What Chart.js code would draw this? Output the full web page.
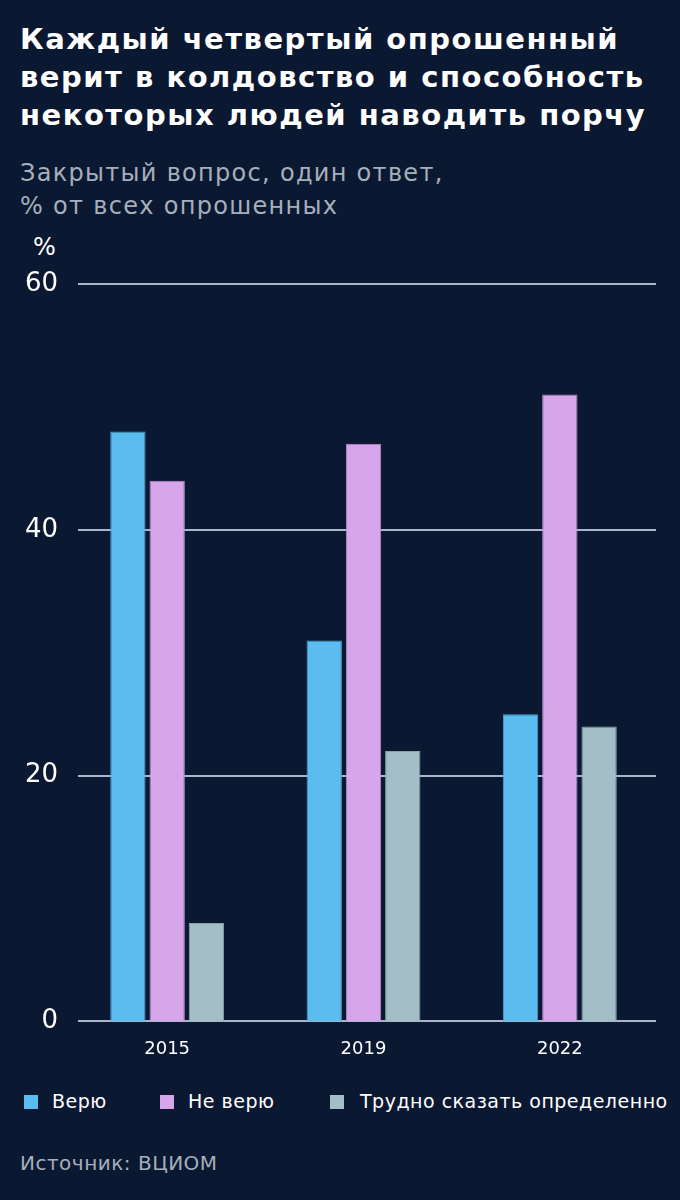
<!DOCTYPE html>
<html lang="ru">
<head>
<meta charset="utf-8">
<script src="https://cdn.jsdelivr.net/npm/chart.js@4"></script>
<style>
  html, body { margin: 0; padding: 0; }
  body {
    width: 680px; height: 1200px; position: relative; overflow: hidden;
    background: #0b1832; font-family: "DejaVu Sans", sans-serif; color: #fff;
  }
  h1 {
    position: absolute; left: 20px; top: 20px; margin: 0; width: 670px; white-space: nowrap;
    font-size: 29px; line-height: 38px; font-weight: 700; letter-spacing: 1.5px;
  }
  .sub {
    position: absolute; left: 20px; top: 157px; margin: 0; white-space: nowrap;
    font-size: 24px; line-height: 33px; color: #a6afbc; letter-spacing: 1.3px;
  }
  .unit { position: absolute; left: 33px; top: 233px; font-size: 24px; }
  #wrap { position: absolute; left: 0; top: 240px; width: 680px; height: 840px; }
  .legend { position: absolute; top: 0; left: 0; font-size: 19px; letter-spacing: 0.5px; }
  .legend span { position: absolute; white-space: nowrap; line-height: 24px; }
  .legend i { position: absolute; width: 14px; height: 14px; top: 1095px; }
  .src { position: absolute; left: 20px; top: 1151px; font-size: 20px; color: #a6afbc; letter-spacing: 0.5px; }
</style>
</head>
<body>
<h1>Каждый четвертый опрошенный<br>верит в колдовство и способность<br>некоторых людей наводить порчу</h1>
<p class="sub">Закрытый вопрос, один ответ,<br>% от всех опрошенных</p>
<div class="unit">%</div>
<div id="wrap"><canvas id="chart" width="680" height="840"></canvas></div>
<div id="legend" class="legend"></div>
<div class="src">Источник: ВЦИОМ</div>

<script>
// ===============================
// DATA
// ===============================
const years = ["2015", "2019", "2022"];
const believe = [48, 31, 25];
const notBelieve = [44, 47, 51];
const hardToSay = [8, 22, 24];
const yTicks = [0, 20, 40, 60];

const seriesNames = ["Верю", "Не верю", "Трудно сказать определенно"];
const seriesColors = ["#5bbcf0", "#d6a5ea", "#a3bec6"];
const seriesBorders = ["#4a9fcc", "#b88ccb", "#8aa3aa"];

// ===============================
// LEGEND (html)
// ===============================
const legendPos = [[24, 52], [160, 188], [330, 360]];
document.getElementById("legend").innerHTML = seriesNames.map((n, i) =>
  `<i style="left:${legendPos[i][0]}px;background:${seriesColors[i]}"></i>
   <span style="left:${legendPos[i][1]}px;top:1089px">${n}</span>`
).join("");

// grid lines drawn from x=78, bars centred on a wider category band
const gridPlugin = {
  id: "gridLines",
  beforeDatasetsDraw(chart) {
    const { ctx, scales: { y } } = chart;
    ctx.save();
    ctx.strokeStyle = "#a9b6cc";
    ctx.lineWidth = 2;
    yTicks.forEach(v => {
      const py = Math.round(y.getPixelForValue(v));
      ctx.beginPath();
      ctx.moveTo(78, py);
      ctx.lineTo(656, py);
      ctx.stroke();
    });
    ctx.restore();
  }
};

const sets = [believe, notBelieve, hardToSay].map((d, i) => ({
  label: seriesNames[i],
  data: d,
  backgroundColor: seriesColors[i],
  borderColor: seriesBorders[i],
  borderWidth: 1,
  categoryPercentage: 0.6,
  barPercentage: 0.9
}));

new Chart(document.getElementById("chart"), {
  type: "bar",
  data: { labels: years, datasets: sets },
  plugins: [gridPlugin],
  options: {
    responsive: false,
    animation: false,
    events: [],
    layout: { padding: { top: 44, right: 22, bottom: 3, left: 0 } },
    plugins: { legend: { display: false }, tooltip: { enabled: false } },
    scales: {
      x: {
        grid: { display: false, drawTicks: false },
        border: { display: false },
        ticks: { color: "#ffffff", font: { family: "DejaVu Sans", size: 18 }, padding: 17 }
      },
      y: {
        min: 0,
        max: 60,
        afterBuildTicks: s => { s.ticks = yTicks.map(v => ({ value: v })); },
        afterFit: s => { s.width = 69; },
        grid: { display: false, drawTicks: false },
        border: { display: false },
        ticks: { color: "#ffffff", font: { family: "DejaVu Sans", size: 26 }, padding: 11 }
      }
    }
  }
});
</script>
</body>
</html>
